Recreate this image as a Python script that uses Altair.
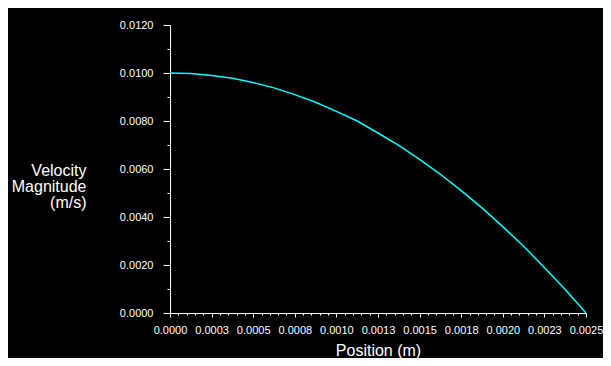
import json
import altair as alt
import pandas as pd

# Values
position = [0.0, 0.000125, 0.00025, 0.000375, 0.0005, 0.000625, 0.00075, 0.000875,
            0.001, 0.001125, 0.00125, 0.001375, 0.0015, 0.001625, 0.00175, 0.001875,
            0.002, 0.002125, 0.00225, 0.002375, 0.0025]
velocity = [0.0100, 0.00998, 0.0099, 0.00978, 0.0096, 0.00938, 0.0091, 0.00878,
            0.0084, 0.0080, 0.0075, 0.00698, 0.0064, 0.00578, 0.0051, 0.00438,
            0.0036, 0.00278, 0.0019, 0.00098, 0.0]

x_tick_values = [round(i * 0.00005, 5) for i in range(51)]
x_labels = ["0.0000", "0.0003", "0.0005", "0.0008", "0.0010", "0.0013",
            "0.0015", "0.0018", "0.0020", "0.0023", "0.0025"]
y_tick_values = [round(i * 0.001, 3) for i in range(13)]
y_labels = ["0.0000", "0.0020", "0.0040", "0.0060", "0.0080", "0.0100", "0.0120"]

df = pd.DataFrame({"position": position, "velocity": velocity})

FONT = "Liberation Sans"

x_major = "round(datum.value*100000) % 25 == 0"
y_major = "round(datum.value*1000) % 2 == 0"

x_axis = alt.Axis(
    title="Position (m)",
    values=x_tick_values,
    labelExpr=f"{x_major} ? {json.dumps(x_labels)}[round(datum.value*4000)] : ''",
    tickSize={"condition": {"test": x_major, "value": 4}, "value": 2},
    labelOverlap=False,
    labelFlush=False,
    labelPadding=7,
    labelFontSize=11,
    titleFontSize=16,
    titleFontWeight="normal",
    titlePadding=7,
    grid=False,
)

y_axis = alt.Axis(
    title=["Velocity", "Magnitude", "(m/s)"],
    values=y_tick_values,
    labelExpr=f"{y_major} ? {json.dumps(y_labels)}[round(datum.value*500)] : ''",
    tickSize={"condition": {"test": y_major, "value": 7}, "value": 3},
    labelOverlap=False,
    labelFlush=False,
    labelPadding=10,
    labelFontSize=11,
    titleFontSize=16,
    titleFontWeight="normal",
    titleAngle=0,
    titleAlign="right",
    titleBaseline="alphabetic",
    titleLineHeight=16,
    titleX=-84,
    titleY=150,
    grid=False,
)

chart = (
    alt.Chart(df)
    .mark_line(color="#00ffff", strokeWidth=1.5)
    .encode(
        x=alt.X("position:Q", scale=alt.Scale(domain=[0, 0.0025], nice=False, zero=True), axis=x_axis),
        y=alt.Y("velocity:Q", scale=alt.Scale(domain=[0, 0.012], nice=False, zero=True), axis=y_axis),
    )
    .properties(
        width=416,
        height=288,
        background="#000000",
        padding={"left": 162, "top": 17, "right": 17, "bottom": 45},
        autosize=alt.AutoSizeParams(type="none"),
    )
    .configure_view(stroke=None)
    .configure_axis(
        domainColor="#ffffff",
        tickColor="#ffffff",
        labelColor="#ffffff",
        titleColor="#ffffff",
        labelFont=FONT,
        titleFont=FONT,
        domainWidth=1,
        tickWidth=1,
    )
)

chart.save("out.html", embed_options={"renderer": "svg", "actions": False})
